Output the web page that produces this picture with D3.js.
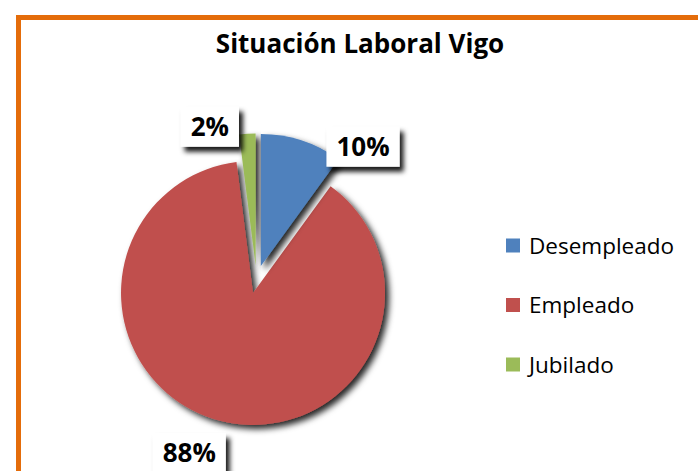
<!DOCTYPE html>
<html>
<head>
<meta charset="utf-8">
<script src="https://cdn.jsdelivr.net/npm/d3@7"></script>
<style>
  body { margin: 0; background: #fff; }
  text { font-family: "Open Sans", "Liberation Sans", sans-serif; }
</style>
</head>
<body>
<div id="chart"></div>
<script>
// data
const title = 'Situación Laboral Vigo';
const categories = ['Desempleado', 'Empleado', 'Jubilado'];
const values = [10, 88, 2];
const colors = ['#4F81BD', '#C0504D', '#9BBB59'];

// layout
const svgWidth = 698;
const svgHeight = 471;
const cx = 256.5, cy = 279.4;
const radius = 132;
const explode = 14;
// label box nudges from the outer label arc (Excel best fit placement)
const labelNudge = [[54, 29], [-25, 9], [-36, 17]];

const svg = d3.select('#chart')
  .append('svg')
  .attr('width', svgWidth)
  .attr('height', svgHeight);

const defs = svg.append('defs');
defs.append('filter')
  .attr('id', 'shadow')
  .attr('x', '-20%').attr('y', '-20%')
  .attr('width', '150%').attr('height', '150%')
  .append('feDropShadow')
  .attr('dx', 4).attr('dy', 4)
  .attr('stdDeviation', 3)
  .attr('flood-color', '#000')
  .attr('flood-opacity', 0.85);
defs.append('filter')
  .attr('id', 'boxShadow')
  .attr('x', '-20%').attr('y', '-20%')
  .attr('width', '150%').attr('height', '160%')
  .append('feDropShadow')
  .attr('dx', 4).attr('dy', 5)
  .attr('stdDeviation', 2.5)
  .attr('flood-color', '#000')
  .attr('flood-opacity', 0.9);

// chart border
svg.append('rect')
  .attr('x', 18.5)
  .attr('y', 17.5)
  .attr('width', svgWidth)
  .attr('height', svgHeight)
  .attr('fill', '#fff')
  .attr('stroke', '#E46C0A')
  .attr('stroke-width', 5);

// title
svg.append('text')
  .attr('x', 360)
  .attr('y', 53)
  .attr('text-anchor', 'middle')
  .attr('font-size', 26)
  .attr('font-weight', 700)
  .attr('fill', '#000')
  .text(title);

// pie
const pie = d3.pie().sort(null).value(d => d);
const arcs = pie(values);
const totalValue = d3.sum(values);
const arc = d3.arc().innerRadius(0).outerRadius(radius);
const explodeArc = d3.arc().innerRadius(explode).outerRadius(explode);
const labelArc = d3.arc().innerRadius(radius + 24).outerRadius(radius + 24);

const graph = svg.append('g')
  .attr('transform', `translate(${cx},${cy})`);

// draw Empleado first so the smaller slices' shadows fall on it
const drawOrder = [1, 0, 2];
graph.selectAll('path')
  .data(drawOrder.map(i => arcs[i]))
  .enter()
  .append('path')
  .attr('transform', d => `translate(${explodeArc.centroid(d)})`)
  .attr('d', arc)
  .attr('fill', d => colors[d.index])
  .attr('filter', 'url(#shadow)');

// data labels
const labels = graph.selectAll('g.label')
  .data(arcs)
  .enter()
  .append('g')
  .attr('class', 'label')
  .attr('transform', d => {
    const e = explodeArc.centroid(d);
    const l = labelArc.centroid(d);
    const n = labelNudge[d.index];
    return `translate(${e[0] + l[0] + n[0]},${e[1] + l[1] + n[1]})`;
  });

const boxes = labels.append('rect')
  .attr('fill', '#fff')
  .attr('filter', 'url(#boxShadow)');

const labelText = labels.append('text')
  .attr('text-anchor', 'middle')
  .attr('dy', '0.35em')
  .attr('font-size', 26)
  .attr('font-weight', 700)
  .attr('fill', '#000')
  .text(d => Math.round(d.value / totalValue * 100) + '%');

labelText.each(function(d, i) {
  const w = this.getComputedTextLength() + 20;
  const h = 40;
  d3.select(boxes.nodes()[i])
    .attr('x', -w / 2)
    .attr('y', -h / 2)
    .attr('width', w)
    .attr('height', h);
});

// legend
const legend = svg.append('g')
  .attr('transform', 'translate(506,245.5)');
const item = legend.selectAll('g')
  .data(categories)
  .enter()
  .append('g')
  .attr('transform', (d, i) => `translate(0,${i * 59.5})`);
item.append('rect')
  .attr('x', 0)
  .attr('y', -7)
  .attr('width', 14)
  .attr('height', 14)
  .attr('fill', (d, i) => colors[i]);
item.append('text')
  .attr('x', 23)
  .attr('y', 8)
  .attr('font-size', 22.5)
  .attr('fill', '#000')
  .text(d => d);
</script>
</body>
</html>
